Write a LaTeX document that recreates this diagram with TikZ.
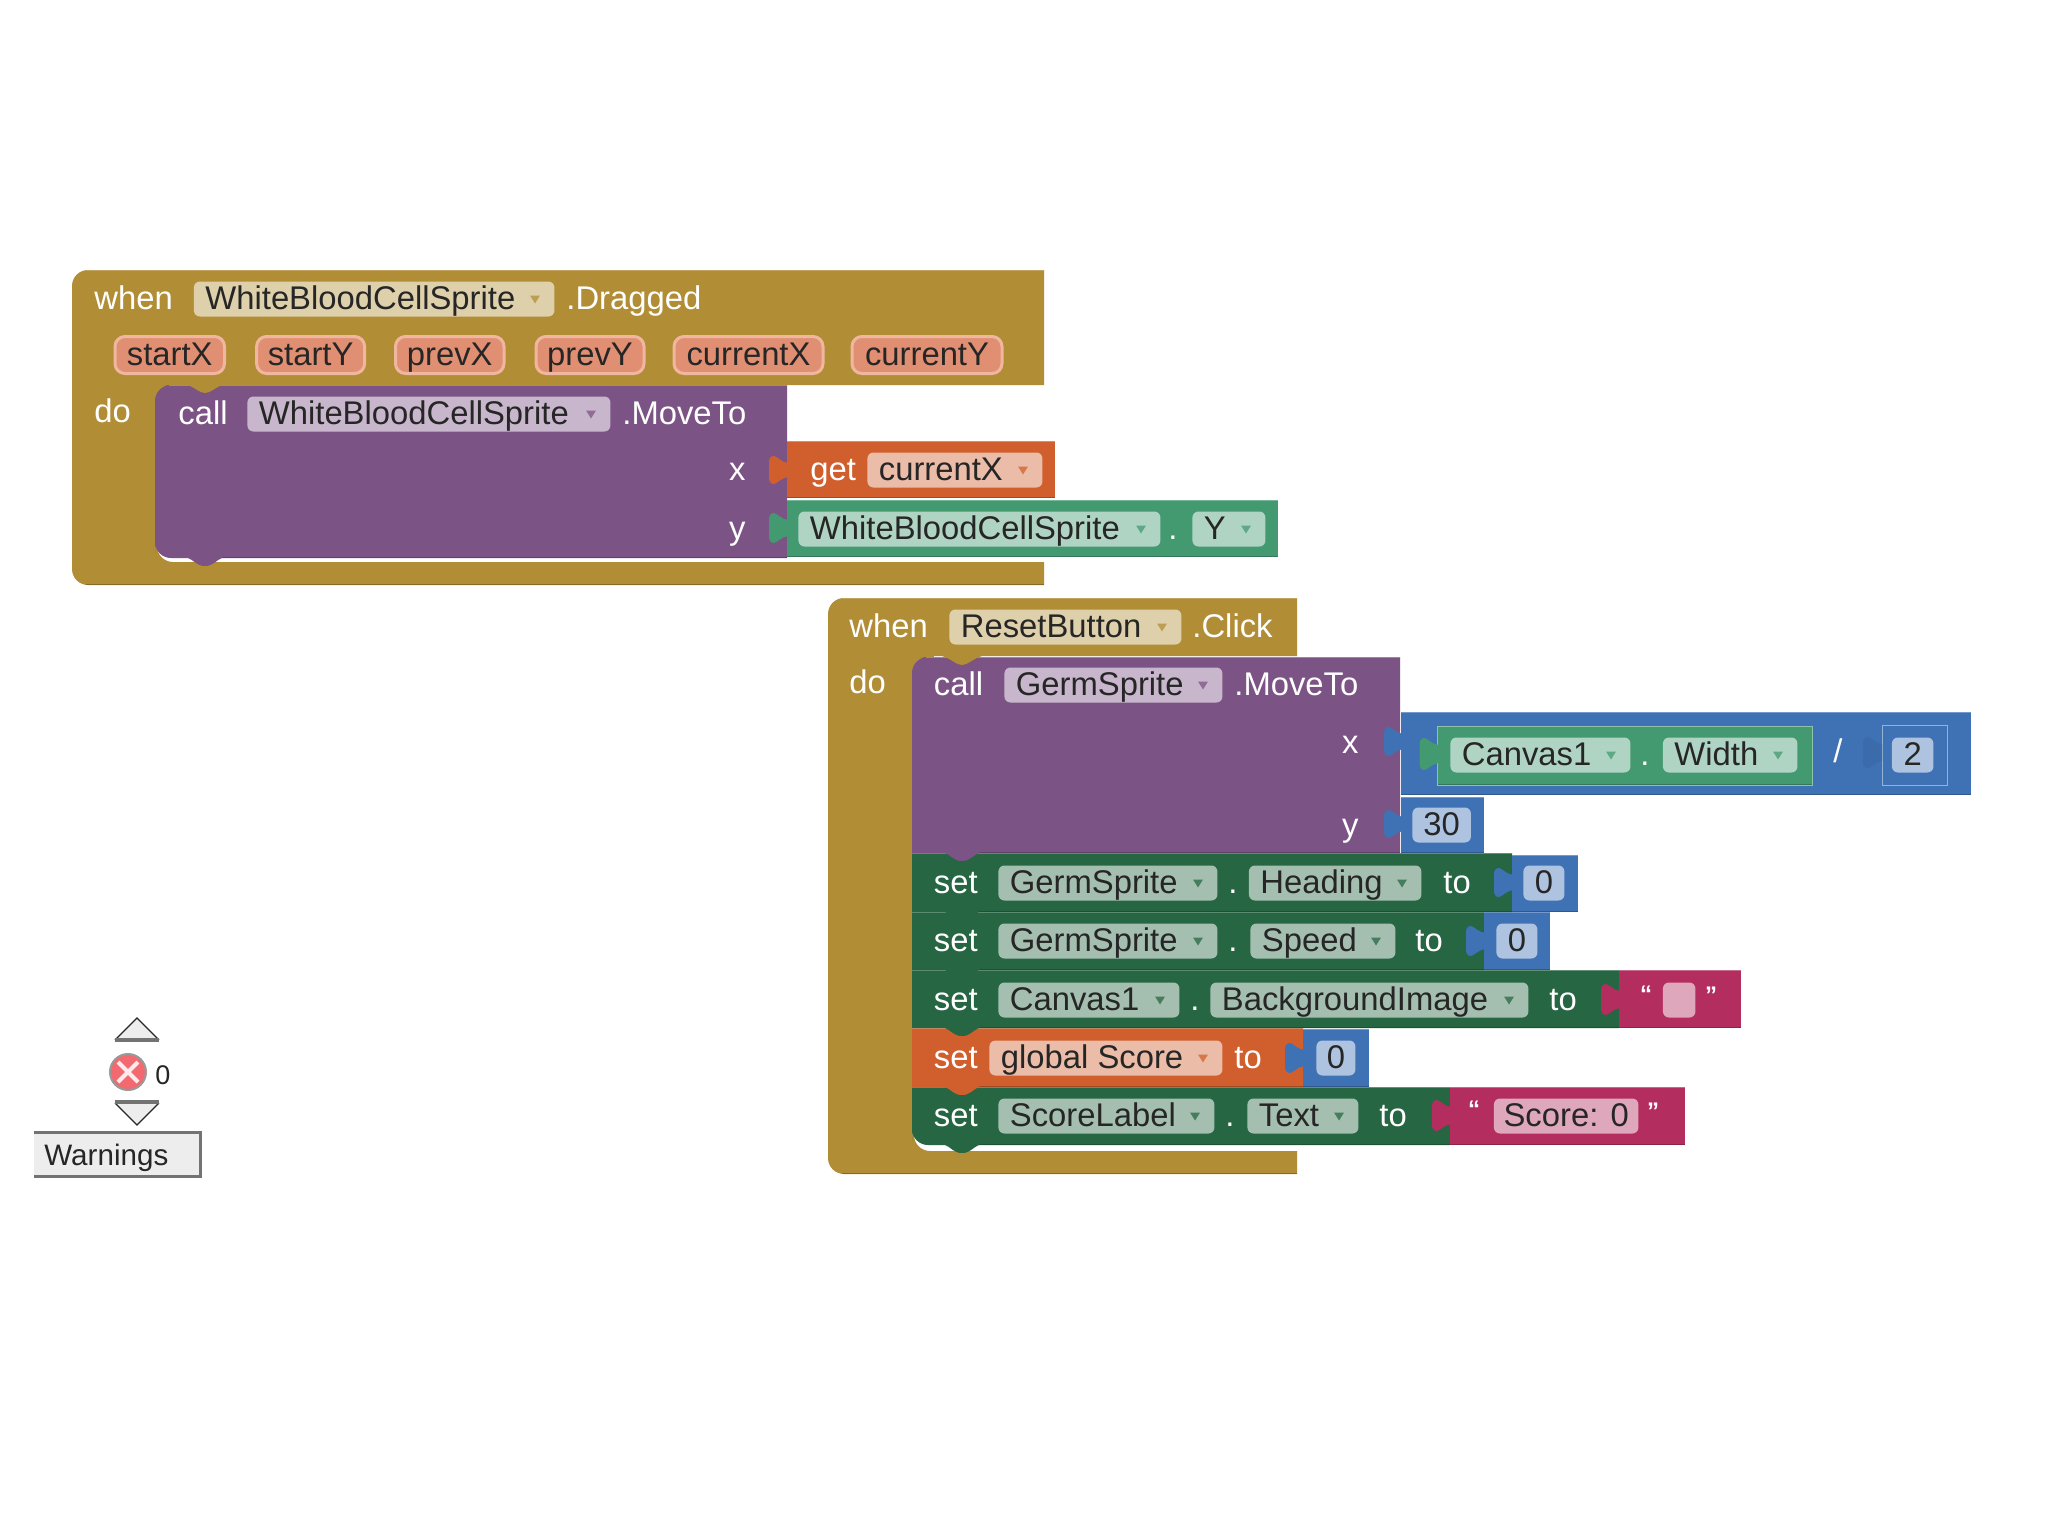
\documentclass[tikz,border=0pt]{standalone}
\usepackage{fontspec}
\setmainfont{Liberation Sans}
\definecolor{gold}{HTML}{B18E35}
\definecolor{purp}{HTML}{7C5385}
\definecolor{orng}{HTML}{D05F2D}
\definecolor{dkgr}{HTML}{266643}
\definecolor{mdgr}{HTML}{439970}
\definecolor{blu}{HTML}{3F71B5}
\definecolor{pnk}{HTML}{B32D5E}
\definecolor{pillfill}{HTML}{E18F72}
\definecolor{pillline}{HTML}{F0B7A0}
\definecolor{errred}{HTML}{F26A70}
\newcounter{nn}
\tikzset{
  lbl/.style={inner sep=0pt,anchor=west,font=\fontsize{16.4}{18}\selectfont,text height=12pt,text depth=2pt},
  wlbl/.style={lbl,text=white},
  fieldbox/.style={inner xsep=5.75pt,inner ysep=0pt,anchor=west,rounded corners=3pt,minimum height=17.5pt,
    font=\fontsize{16.4}{18}\selectfont,text height=12pt,text depth=2pt,text=black!85},
  pillbox/.style={fieldbox,fill=pillfill,draw=pillline,line width=1.5pt,minimum height=18.5pt,rounded corners=5pt},
  quot/.style={inner sep=0pt,text=white,font=\fontsize{12}{12}\bfseries\selectfont},
}
% white text label
\newcommand{\wt}[3]{\stepcounter{nn}\node[wlbl] (t\thenn) at (#1,#2) {#3};}
% field with dropdown arrow: x1,x2,yc,block colour,text
\newcommand{\fld}[5]{\stepcounter{nn}%
  \pgfmathsetlengthmacro\W{(#2-#1)*0.5}\pgfmathsetlengthmacro\TW{(#2-#1)*0.5-11.5}%
  \node[fieldbox,fill=#4!42!white,minimum width=\W] (f\thenn) at (#1,#3) {\hbox to \TW{#5\hss}};
  \fill[#4!85!white] (#2-24,#3-3.5) -- (#2-14,#3-3.5) -- (#2-19,#3+4.5) -- cycle;}
% field without arrow, centred text
\newcommand{\fldn}[5]{\stepcounter{nn}%
  \pgfmathsetlengthmacro\W{(#2-#1)*0.5}\pgfmathsetlengthmacro\TW{(#2-#1)*0.5-11.5}%
  \node[fieldbox,fill=#4!42!white,minimum width=\W] (f\thenn) at (#1,#3) {\hbox to \TW{\hss #5\hss}};}
% pill: x1,x2,yc,text
\newcommand{\pil}[4]{\stepcounter{nn}%
  \pgfmathsetlengthmacro\W{(#2-#1)*0.5-1.5}\pgfmathsetlengthmacro\TW{(#2-#1)*0.5-13}%
  \node[pillbox,minimum width=\W] (p\thenn) at (#1+1.5,#3) {\hbox to \TW{\hss #4\hss}};}
% value block: x1,y1,x2,y2,colour
\newcommand{\val}[5]{%
  \fill[#5] (#1,#2) rectangle (#3,#4);
  \draw[#5!72!white,line width=.6pt] (#1,#2+.6) -- (#3,#2+.6);
  \draw[#5!78!black,line width=.6pt] (#1,#4-.6) -- (#3,#4-.6);}
% puzzle tab: x0,ytop,ybot,colour
\newcommand{\tabb}[4]{%
  \pgfmathsetmacro\hh{#3-#2}%
  \begin{scope}[shift={(#1,#2)}]
  \fill[#4] (1,7) .. controls (-6,6) and (-9,1) .. (-13,0) .. controls (-17,0) and (-18,3) .. (-18,7)
     -- (-18,\hh-7) .. controls (-18,\hh-3) and (-17,\hh) .. (-13,\hh) .. controls (-9,\hh-1) and (-6,\hh-6) .. (1,\hh-7) -- cycle;
  \end{scope}}
% statement block with bottom tab: x1,y1,x2,y2,colour,rTL,rBL
\newcommand{\stack}[7]{%
  \pgfmathsetmacro\ww{#3-#1}\pgfmathsetmacro\hh{#4-#2}%
  \begin{scope}[shift={(#1,#2)}]
  \fill[#5] (0,20) [rounded corners=#6] -- (0,0) -- (24,0) [sharp corners] -- (\ww,0) -- (\ww,\hh) -- (67,\hh)
     .. controls (60,\hh+3) and (58,\hh+8) .. (50,\hh+8) .. controls (42,\hh+8) and (40,\hh+3) .. (33,\hh)
     -- (24,\hh) [rounded corners=#7] -- (0,\hh) -- (0,\hh-20) [sharp corners] -- cycle;
  \ifdim#6>1pt\def\lstart{14}\else\def\lstart{0}\fi
  \draw[#5!72!white,line width=.6pt] (\lstart,.6) -- (\ww,.6);
  \draw[#5!78!black,line width=.6pt] (67,\hh-.6) -- (\ww,\hh-.6);
  \end{scope}}
% gold notch over first stacked block: x1,y1
\newcommand{\notch}[2]{%
  \begin{scope}[shift={(#1,#2)}]
  \fill[gold] (30,-1) .. controls (40,2) and (44,8) .. (50,8) .. controls (56,8) and (60,2) .. (70,-1) -- cycle;
  \end{scope}}
% gold event block: x1,y1,x2,y2(header bottom),xin,ybar,ybot
\newcommand{\evtblock}[7]{%
  \fill[gold] (#1,#2+30) [rounded corners=8pt] -- (#1,#2) -- (#1+30,#2) [sharp corners] -- (#3,#2) -- (#3,#4) -- (#5,#4) -- (#5,#6-24)
     [rounded corners=8pt] -- (#5,#6) -- (#5+30,#6) [sharp corners] -- (#3,#6) -- (#3,#7) -- (#1+30,#7) [rounded corners=8pt] -- (#1,#7) -- (#1,#7-30) [sharp corners] -- cycle;
  \fill[gold] (#5-1,#4-1) rectangle (#5+20,#4+20);
  \draw[gold!75!black,line width=.6pt] (#1+14,#7-.6) -- (#3,#7-.6);
  \draw[gold!80!white,line width=.6pt] (#1+14,#2+.6) -- (#3,#2+.6);}
\begin{document}
\begin{tikzpicture}[x=0.5pt,y=-0.5pt]
\useasboundingbox (0,0) rectangle (2048,1536);
\fill[white] (0,0) rectangle (2048,1536);

% ---------- first event block ----------
\evtblock{72}{270}{1044}{385}{157}{562}{585}
\wt{94}{299.5}{when}
\fld{193.5}{554}{299}{gold}{WhiteBloodCellSprite}
\wt{566}{299.5}{.Dragged}
\pil{112}{224.5}{355}{startX}
\pil{253.6}{364.6}{355}{startY}
\pil{392.5}{504}{355}{prevX}
\pil{533}{644}{355}{prevY}
\pil{671}{823}{355}{currentX}
\pil{849}{1002}{355}{currentY}
\wt{94}{412}{do}
\stack{155}{385}{787}{558}{purp}{8pt}{8pt}
\notch{155}{385}
\wt{178}{414}{call}
\fld{247}{610}{414}{purp}{WhiteBloodCellSprite}
\wt{622}{414}{.MoveTo}
\stepcounter{nn}\node[wlbl,anchor=east] (t\thenn) at (746,470) {x};
\stepcounter{nn}\node[wlbl,anchor=east] (t\thenn) at (746,529) {y};
\val{787}{441}{1055}{498}{orng}
\tabb{787}{456}{484}{orng}
\wt{810}{470}{get}
\fld{867}{1042}{470}{orng}{currentX}
\val{787}{500}{1278}{557}{mdgr}
\tabb{787}{513}{543}{mdgr}
\fld{798}{1160}{529}{mdgr}{WhiteBloodCellSprite}
\wt{1168}{529}{.}
\fld{1192}{1265}{529}{mdgr}{Y}

% ---------- second event block ----------
\evtblock{828}{598}{1297}{656}{914}{1151}{1174}
\wt{849}{627}{when}
\fld{949}{1181}{627}{gold}{ResetButton}
\wt{1192}{627}{.Click}
\wt{849}{683}{do}

% set ScoreLabel.Text
\stack{912}{1087}{1450}{1145}{dkgr}{.01pt}{8pt}
\wt{933.5}{1116}{set}
\fld{998}{1214}{1116}{dkgr}{ScoreLabel}
\wt{1225}{1116}{.}
\fld{1247}{1358}{1116}{dkgr}{Text}
\wt{1379}{1116}{to}
\val{1450}{1087}{1685}{1145}{pnk}
\tabb{1450}{1100}{1131}{pnk}
\stepcounter{nn}\node[quot] (q\thenn) at (1474,1109) {“};
\fldn{1493.5}{1638}{1116}{pnk}{Score: 0}
\stepcounter{nn}\node[quot] (q\thenn) at (1653,1111) {”};

% set global Score
\stack{912}{1028}{1303}{1087}{orng}{.01pt}{.01pt}
\wt{933.5}{1058}{set}
\fld{989}{1222}{1058}{orng}{global Score}
\wt{1234}{1058}{to}
\val{1303}{1029}{1369}{1087}{blu}
\tabb{1303}{1043}{1073}{blu}
\fldn{1316}{1355}{1058}{blu}{0}

% set Canvas1.BackgroundImage
\stack{912}{970}{1619}{1028}{dkgr}{.01pt}{.01pt}
\wt{933.5}{1000.5}{set}
\fld{998}{1179}{1000}{dkgr}{Canvas1}
\wt{1190}{1000.5}{.}
\fld{1210}{1528}{1000}{dkgr}{BackgroundImage}
\wt{1549}{1000.5}{to}
\val{1619}{970}{1741}{1028}{pnk}
\tabb{1619}{984}{1015}{pnk}
\stepcounter{nn}\node[quot] (q\thenn) at (1646,994) {“};
\fldn{1662.5}{1695}{1000}{pnk}{}
\stepcounter{nn}\node[quot] (q\thenn) at (1711,995) {”};

% set GermSprite.Speed
\stack{912}{912}{1484}{970}{dkgr}{.01pt}{.01pt}
\wt{933.5}{941}{set}
\fld{998}{1217}{941}{dkgr}{GermSprite}
\wt{1228}{941}{.}
\fld{1250}{1395}{941}{dkgr}{Speed}
\wt{1415}{941}{to}
\val{1484}{912}{1550}{970}{blu}
\tabb{1484}{926}{956}{blu}
\fldn{1496}{1537}{941}{blu}{0}

% set GermSprite.Heading
\stack{912}{853}{1512}{912}{dkgr}{.01pt}{.01pt}
\wt{933.5}{883}{set}
\fld{998}{1217}{883}{dkgr}{GermSprite}
\wt{1228}{883}{.}
\fld{1248.5}{1421}{883}{dkgr}{Heading}
\wt{1443}{883}{to}
\val{1512}{855}{1578}{912}{blu}
\tabb{1512}{868}{897}{blu}
\fldn{1523}{1564}{883}{blu}{0}

% call GermSprite.MoveTo
\stack{912}{657}{1400}{853}{purp}{8pt}{.01pt}
\notch{912}{657}
\wt{933.5}{685}{call}
\fld{1004}{1222}{685}{purp}{GermSprite}
\wt{1234}{685}{.MoveTo}
\stepcounter{nn}\node[wlbl,anchor=east] (t\thenn) at (1359,743) {x};
\stepcounter{nn}\node[wlbl,anchor=east] (t\thenn) at (1359,826) {y};
\val{1401}{712}{1970.5}{795}{blu}
\tabb{1402}{727}{756}{blu}
\val{1437.5}{726}{1812}{785}{mdgr}
\draw[mdgr!60!white,line width=.5pt] (1437.5,726) -- (1812,726) -- (1812,785) -- (1437.5,785) -- cycle;
\tabb{1437.5}{738}{770}{mdgr}
\fld{1450}{1630}{755}{mdgr}{Canvas1}
\wt{1640}{755}{.}
\fld{1662.5}{1797}{755}{mdgr}{Width}
\wt{1833}{752}{/}
\draw[blu!55!white,line width=.5pt] (1882,725) -- (1947,725) -- (1947,785) -- (1882,785) -- cycle;
\tabb{1881}{737}{768}{blu!95!black}
\fldn{1891.5}{1933}{755}{blu}{2}
\val{1401}{797}{1484}{853}{blu}
\tabb{1402}{810}{838}{blu}
\fldn{1412}{1470.5}{825}{blu}{30}

% ---------- warning indicator ----------
\fill[black!7] (137,1018) -- (115,1040) -- (159,1040) -- cycle;
\draw[black!85,line width=.6pt] (115,1040) -- (137,1018) -- (159,1040);
\draw[black!55,line width=1.6pt] (115,1040) -- (159,1040);
\fill[black!7] (137,1125) -- (115,1103) -- (159,1103) -- cycle;
\draw[black!85,line width=.6pt] (115,1103) -- (137,1125) -- (159,1103);
\draw[black!55,line width=1.6pt] (115,1102) -- (159,1102);
\stepcounter{nn}\node[circle,fill=errred,draw=black!40,line width=1pt,minimum size=18pt,inner sep=0pt] (e\thenn) at (128,1072) {};
\draw[white!92!red,line width=2pt] (118,1062) -- (138,1082) (118,1082) -- (138,1062);
\stepcounter{nn}\node[inner sep=0pt,text=black!85,font=\fontsize{13.5}{14}\selectfont] (t\thenn) at (163,1075) {0};
\fill[black!7] (34,1131) rectangle (202,1178);
\draw[black!55,line width=1.5pt] (34,1132.5) -- (200.5,1132.5) -- (200.5,1176.5) -- (34,1176.5);
\stepcounter{nn}\node[inner sep=0pt,anchor=west,text=black!85,font=\fontsize{14.8}{16}\selectfont] (w\thenn) at (44,1158) {Warnings};
\end{tikzpicture}
\end{document}
